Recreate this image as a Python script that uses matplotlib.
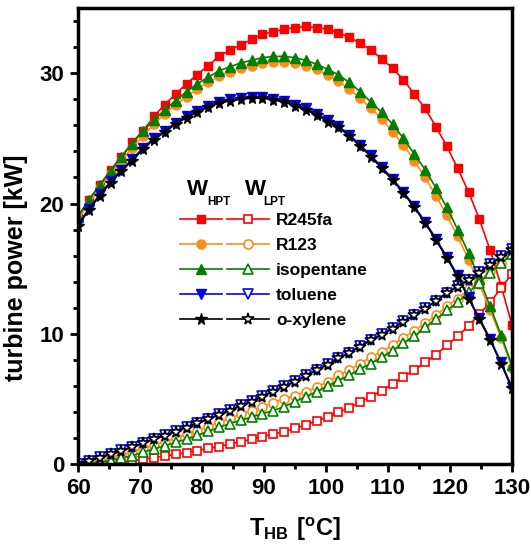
import numpy as np
import matplotlib
matplotlib.use('Agg')
import matplotlib.pyplot as plt
from matplotlib.ticker import MultipleLocator
from matplotlib.legend_handler import HandlerTuple

plt.rcParams['font.family'] = ['Liberation Sans', 'DejaVu Sans']
plt.rcParams['font.weight'] = 'bold'
plt.rcParams['mathtext.fontset'] = 'custom'
plt.rcParams['mathtext.rm'] = 'Liberation Sans:bold'
plt.rcParams['mathtext.bf'] = 'Liberation Sans:bold'

# heat-source temperature [C]
t_hb = [60, 61.75, 63.5, 65.25, 67, 68.75, 70.5, 72.25, 74, 75.75, 77.5,
        79.25, 81, 82.75, 84.5, 86.25, 88, 89.75, 91.5, 93.25, 95, 96.75,
        98.5, 100.25, 102, 103.75, 105.5, 107.25, 109, 110.75, 112.5, 114.25,
        116, 117.75, 119.5, 121.25, 123, 124.75, 126.5, 128.25, 130]

# high pressure turbine power [kW]
hpt_r245fa = [19.0, 20.3, 21.4, 22.6, 23.6, 24.7, 25.6, 26.7, 27.6, 28.4, 29.2,
              29.9, 30.6, 31.3, 31.8, 32.2, 32.6, 33.0, 33.2, 33.4, 33.5, 33.6,
              33.5, 33.4, 33.1, 32.8, 32.3, 31.8, 31.1, 30.4, 29.5, 28.4,
              27.3, 25.9, 24.4, 22.7, 20.9, 18.8, 16.4, 13.7, 10.7]
hpt_r123 = [18.8, 20.0, 21.2, 22.3, 23.3, 24.3, 25.2, 26.1, 26.9, 27.6, 28.2,
            28.8, 29.3, 29.8, 30.1, 30.4, 30.6, 30.8, 30.9, 30.9, 30.8, 30.6,
            30.3, 29.9, 29.4, 28.8, 28.1, 27.3, 26.5, 25.5, 24.5, 23.3,
            22.0, 20.6, 19.1, 17.5, 15.7, 13.8, 11.8, 9.7, 7.4]
hpt_isopentane = [19.0, 20.3, 21.4, 22.5, 23.6, 24.6, 25.6, 26.4, 27.2, 27.9, 28.6,
                  29.2, 29.7, 30.2, 30.5, 30.8, 31.0, 31.2, 31.3, 31.3, 31.2, 31.0,
                  30.7, 30.3, 29.9, 29.3, 28.6, 27.8, 27.0, 26.1, 25.0, 23.8,
                  22.6, 21.2, 19.7, 18.0, 16.2, 14.2, 12.1, 9.9, 7.6]
hpt_toluene = [18.4, 19.6, 20.7, 21.7, 22.6, 23.4, 24.3, 25.0, 25.6, 26.2, 26.7,
               27.1, 27.5, 27.8, 28.0, 28.1, 28.2, 28.2, 28.05, 27.9, 27.6, 27.3,
               26.9, 26.4, 25.95, 25.3, 24.5, 23.7, 22.8, 21.9, 20.9, 19.8,
               18.6, 17.3, 15.9, 14.5, 12.8, 11.2, 9.6, 7.8, 5.9]
hpt_oxylene = [18.3, 19.5, 20.6, 21.6, 22.5, 23.3, 24.2, 24.9, 25.5, 26.1, 26.6,
               27.0, 27.4, 27.7, 27.9, 28.0, 28.1, 28.1, 27.95, 27.8, 27.5, 27.2,
               26.8, 26.3, 25.85, 25.2, 24.4, 23.6, 22.7, 21.8, 20.8, 19.7,
               18.5, 17.2, 15.8, 14.4, 12.7, 11.1, 9.5, 7.7, 5.8]

# low pressure turbine power [kW]
lpt_r245fa = [0.0, 0.01, 0.03, 0.06, 0.1, 0.25, 0.36, 0.49, 0.61, 0.74, 0.87,
              1.02, 1.2, 1.33, 1.53, 1.71, 1.9, 2.1, 2.3, 2.48, 2.73, 3.0,
              3.3, 3.6, 3.95, 4.33, 4.73, 5.17, 5.63, 6.14, 6.7, 7.2,
              7.8, 8.4, 9.1, 9.8, 10.6, 11.5, 12.4, 13.5, 14.6]
lpt_r123 = [0.0, 0.08, 0.23, 0.43, 0.69, 0.95, 1.2, 1.46, 1.71, 1.97, 2.28,
            2.56, 2.87, 3.2, 3.5, 3.8, 4.1, 4.4, 4.7, 5.0, 5.25, 5.55,
            5.9, 6.3, 6.8, 7.2, 7.7, 8.2, 8.6, 9.1, 9.7, 10.2,
            10.8, 11.4, 12.1, 12.7, 13.4, 14.0, 14.8, 15.4, 16.2]
lpt_isopentane = [0.0, 0.05, 0.13, 0.26, 0.46, 0.64, 0.9, 1.15, 1.4, 1.65, 1.9,
                  2.2, 2.5, 2.8, 3.1, 3.35, 3.6, 3.85, 4.1, 4.4, 4.78, 5.17,
                  5.55, 6.0, 6.4, 6.8, 7.3, 7.7, 8.2, 8.7, 9.3, 9.8,
                  10.5, 11.1, 11.8, 12.4, 13.2, 13.9, 14.7, 15.4, 16.1]
lpt_toluene = [0.0, 0.26, 0.52, 0.78, 1.06, 1.32, 1.62, 1.94, 2.2, 2.53, 2.84,
               3.17, 3.48, 3.81, 4.14, 4.5, 4.83, 5.22, 5.6, 5.98, 6.36, 6.8,
               7.25, 7.65, 8.15, 8.55, 9.05, 9.55, 9.95, 10.45, 10.95, 11.45,
               11.95, 12.55, 13.15, 13.65, 14.15, 14.75, 15.35, 15.95, 16.5]
lpt_oxylene = [0.0, 0.23, 0.49, 0.74, 1.02, 1.28, 1.58, 1.9, 2.15, 2.48, 2.79,
               3.12, 3.43, 3.76, 4.09, 4.45, 4.78, 5.17, 5.55, 5.93, 6.3, 6.75,
               7.2, 7.6, 8.1, 8.5, 9.0, 9.5, 9.9, 10.4, 10.9, 11.4,
               11.9, 12.5, 13.1, 13.6, 14.1, 14.7, 15.3, 15.9, 16.4]

fluids = ['R245fa', 'R123', 'isopentane', 'toluene', 'o-xylene']
colors = ['#ff0000', '#ff8c1a', '#008000', '#0000ff', '#000000']
markers = ['s', 'o', '^', 'v', '*']
msizes = [5.5, 6.5, 7, 7, 8.5]
hpt = [hpt_r245fa, hpt_r123, hpt_isopentane, hpt_toluene, hpt_oxylene]
lpt = [lpt_r245fa, lpt_r123, lpt_isopentane, lpt_toluene, lpt_oxylene]

fig = plt.figure(figsize=(5.31, 5.49), dpi=100)
ax = fig.add_axes([0.147, 0.155, 0.817, 0.830])

handles = []
for i in range(len(fluids)):
    h1, = ax.plot(t_hb, hpt[i], color=colors[i], marker=markers[i], ms=msizes[i],
                  lw=1.2, mfc=colors[i], mec=colors[i])
    h2, = ax.plot(t_hb, lpt[i], color=colors[i], marker=markers[i], ms=msizes[i],
                  lw=1.2, mfc='white', mec=colors[i], mew=1.2)
    handles.append((h1, h2))

ax.set_xlim(60, 130)
ax.set_ylim(0, 35)
ax.xaxis.set_major_locator(MultipleLocator(10))
ax.xaxis.set_minor_locator(MultipleLocator(5))
ax.yaxis.set_major_locator(MultipleLocator(10))
ax.yaxis.set_minor_locator(MultipleLocator(2))
ax.tick_params(which='major', direction='out', length=6, width=2, labelsize=16, pad=4)
ax.tick_params(which='minor', direction='out', length=3.5, width=2)
for s in ax.spines.values():
    s.set_linewidth(2.5)

ax.set_xlabel(r'$\mathbf{T_{HB}\ [^{o}C]}$', fontsize=17, labelpad=12)
ax.set_ylabel('turbine power [kW]', fontsize=18, fontweight='bold')
ax.yaxis.set_label_coords(-0.115, 0.43)

leg = ax.legend(handles, fluids, handler_map={tuple: HandlerTuple(ndivide=None, pad=0.28)},
                loc='upper left', bbox_to_anchor=(0.2, 0.585), frameon=False,
                numpoints=1, handlelength=5.1, handletextpad=0.4,
                labelspacing=0.56, prop={'size': 12.5, 'weight': 'bold'})

# column headers above the legend: W with HPT / LPT subscripts
for xw, xs, sub in [(0.251, 0.297, 'HPT'), (0.385, 0.428, 'LPT')]:
    ax.text(xw, 0.590, 'W', transform=ax.transAxes, fontsize=16, fontweight='bold',
            ha='left', va='baseline')
    ax.text(xs, 0.568, sub, transform=ax.transAxes, fontsize=8.5, fontweight='bold',
            ha='left', va='baseline')

fig.savefig('out.png', dpi=100)
